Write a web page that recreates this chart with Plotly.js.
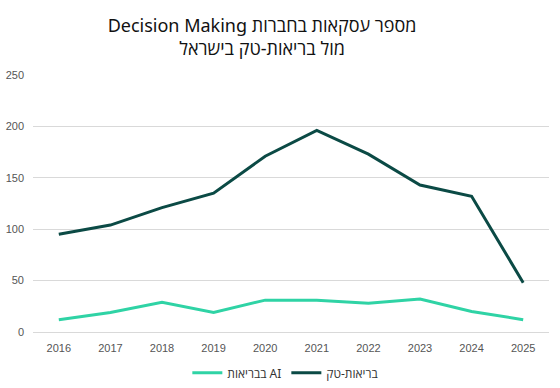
<!DOCTYPE html>
<html>
<head>
<meta charset="utf-8">
<script src="https://cdn.plot.ly/plotly-3.0.1.min.js"></script>
<style>html,body{margin:0;padding:0;background:#fff;}#chart{width:560px;height:388px;}</style>
</head>
<body>
<div id="chart"></div>
<script>
const years = ["2016","2017","2018","2019","2020","2021","2022","2023","2024","2025"];
const healthTech = [95, 104, 121, 135, 171, 196, 173, 143, 132, 48];
const aiHealth = [12, 19, 29, 19, 31, 31, 28, 32, 20, 12];
const seriesNames = ["בבריאות AI", "בריאות-טק"];
const titleText = "Decision Making מספר עסקאות בחברות<br>מול בריאות-טק בישראל";
const yTicks = [0, 50, 100, 150, 200, 250];

const traces = [
  {x: years, y: aiHealth, name: seriesNames[0], type: "scatter", mode: "lines",
   line: {color: "#2fd3a5", width: 3}},
  {x: years, y: healthTech, name: seriesNames[1], type: "scatter", mode: "lines",
   line: {color: "#0b4a45", width: 3}}
];

const layout = {
  width: 560, height: 388,
  margin: {l: 33, r: 11, t: 75, b: 56},
  paper_bgcolor: "#fff", plot_bgcolor: "#fff",
  title: {text: titleText, x: 0.468, xanchor: "center", yref: "container", y: 0.918, yanchor: "middle",
          automargin: false,
          font: {family: "Noto Sans, Open Sans, sans-serif", size: 18, color: "#111"}},
  showlegend: true,
  legend: {orientation: "h", x: 0.49, xanchor: "center", yref: "container", y: 0.039, yanchor: "middle",
           font: {family: "Noto Sans, Open Sans, sans-serif", size: 12, color: "#333"},
           traceorder: "normal"},
  xaxis: {type: "category", range: [-0.5, 9.5], showgrid: false, zeroline: false,
          showline: false, ticks: "outside", ticklen: 6, tickcolor: "rgba(0,0,0,0)", automargin: false,
          tickfont: {family: "Liberation Sans, Arial, sans-serif", size: 11, color: "#555"}},
  yaxis: {range: [0, 250], tickvals: yTicks, showgrid: true, gridcolor: "#d9d9d9",
          gridwidth: 1, zeroline: true, zerolinecolor: "#d9d9d9", showline: false,
          ticks: "", ticklabelstandoff: 8, automargin: false,
          tickfont: {family: "Liberation Sans, Arial, sans-serif", size: 11, color: "#555"}}
};

Plotly.newPlot("chart", traces, layout, {displayModeBar: false, staticPlot: true});
</script>
</body>
</html>
